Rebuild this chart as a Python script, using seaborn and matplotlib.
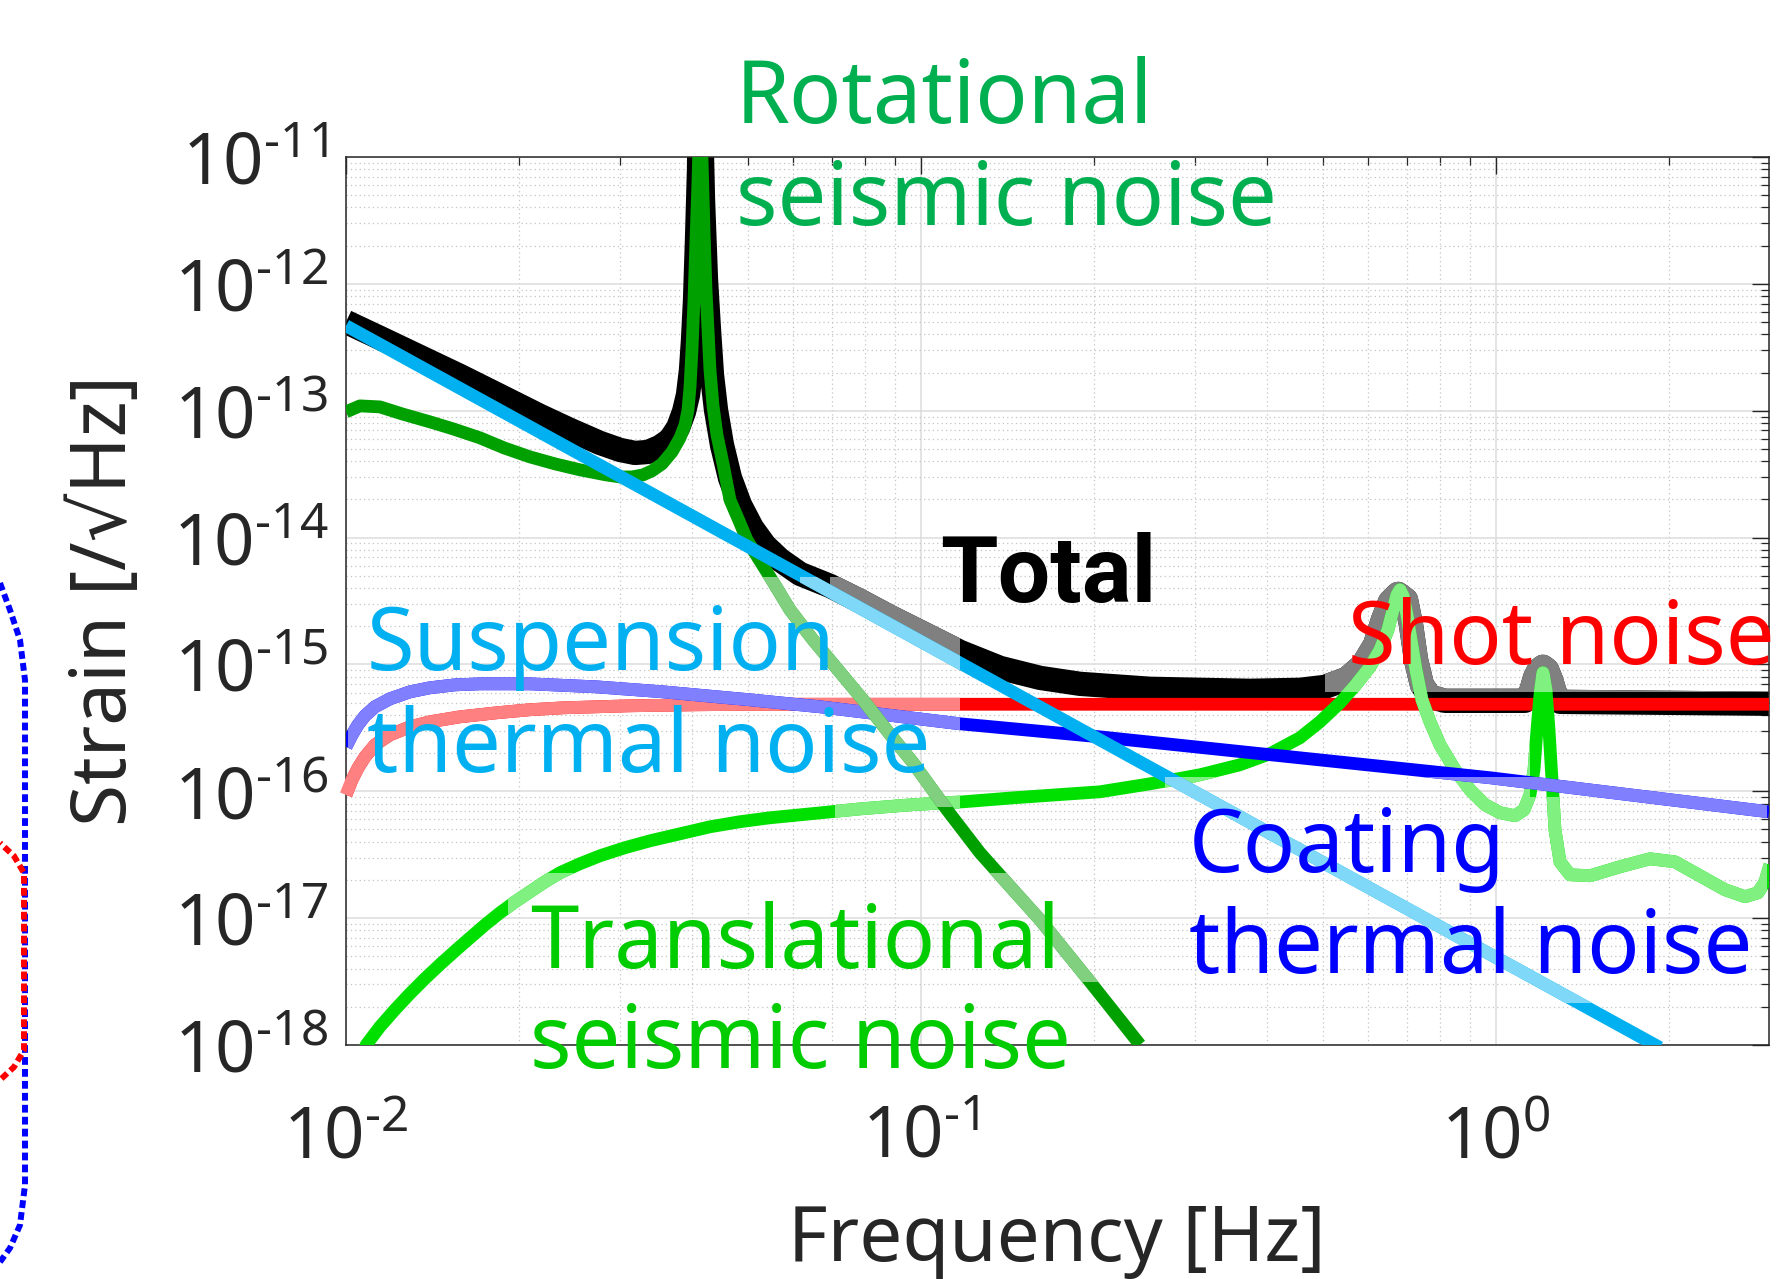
import numpy as np
import pandas as pd
import matplotlib
matplotlib.use("Agg")
import matplotlib.pyplot as plt
import seaborn as sns
from matplotlib.patches import Rectangle
from matplotlib.lines import Line2D
from matplotlib.ticker import FixedLocator, LogLocator, NullFormatter

# ---------------- data (log10 frequency [Hz], log10 strain [/rtHz]) ----------------
susp_logf = [-2.0, 0.285]
susp_logh = [-12.33, -18.02]

coat_logf = [-2.0, -1.9896, -1.9791, -1.9670, -1.9496, -1.9235, -1.8887, -1.8539,
             -1.8104, -1.7670, -1.6800, -1.5635, -1.4487, -1.2974, -1.1757, -0.9322,
             -0.6887, -0.0087, 0.4748]
coat_logh = [-15.649, -15.555, -15.476, -15.405, -15.334, -15.271, -15.216, -15.184,
             -15.161, -15.153, -15.153, -15.177, -15.216, -15.279, -15.334, -15.468,
             -15.571, -15.894, -16.162]

shot_logf = [-2.0, -1.9896, -1.9791, -1.9670, -1.9496, -1.9235, -1.8887, -1.8539,
             -1.8017, -1.7374, -1.6800, -1.6226, -1.5061, -1.3896, -1.2974, 0.4748]
shot_logh = [-16.028, -15.910, -15.816, -15.729, -15.634, -15.555, -15.492, -15.452,
             -15.413, -15.381, -15.357, -15.342, -15.326, -15.318, -15.314, -15.314]

rot_logf = [-2.0, -1.9757, -1.9409, -1.9026, -1.8539, -1.8139, -1.7670, -1.7252,
            -1.6800, -1.6365, -1.5930, -1.5478, -1.5235, -1.5026, -1.4835, -1.4678,
            -1.4504, -1.4330, -1.4191, -1.4104, -1.4052, -1.4017, -1.3983, -1.3948,
            -1.3913, -1.3878, -1.3843, -1.3809, -1.3774, -1.3739, -1.3704, -1.3670,
            -1.3617, -1.3548, -1.3443, -1.3322, -1.3165, -1.3026, -1.2835, -1.2626,
            -1.2278, -1.1878, -1.1443, -1.1009, -1.0574, -1.0139, -0.9548, -0.8974,
            -0.8400, -0.7930, -0.7061, -0.6191]
rot_logh = [-13.009, -12.962, -12.970, -13.025, -13.088, -13.143, -13.214, -13.293,
            -13.364, -13.419, -13.466, -13.506, -13.522, -13.522, -13.506, -13.474,
            -13.419, -13.325, -13.214, -13.112, -12.994, -12.812, -12.521, -12.127,
            -11.654, -11.181, -10.600, -11.000, -11.575, -12.048, -12.363, -12.678,
            -12.962, -13.191, -13.419, -13.703, -13.868, -14.018, -14.160, -14.310,
            -14.570, -14.806, -15.043, -15.279, -15.531, -15.775, -16.146, -16.485,
            -16.776, -17.013, -17.501, -17.998]

tra_logf = [-1.975, -1.965, -1.941, -1.915, -1.889, -1.863, -1.837, -1.810, -1.784,
            -1.758, -1.732, -1.706, -1.680, -1.654, -1.628, -1.593, -1.558, -1.515,
            -1.471, -1.419, -1.367, -1.315, -1.263, -1.193, -1.104, -1.016, -0.927,
            -0.838, -0.6887, -0.6017, -0.5148, -0.4452, -0.3930, -0.3409, -0.3061,
            -0.2713, -0.2452, -0.2191, -0.2017, -0.1878, -0.1791, -0.1722, -0.1670,
            -0.1617, -0.1548, -0.1478, -0.1391, -0.1287, -0.1148, -0.0974, -0.0713,
            -0.0452, -0.0191, 0.0070, 0.0330, 0.0487, 0.0591, 0.0661, 0.0713, 0.0765,
            0.0817, 0.0870, 0.0922, 0.0974, 0.1026, 0.1113, 0.1287, 0.1635, 0.2157,
            0.2678, 0.3113, 0.3548, 0.3983, 0.4330, 0.4557, 0.4678, 0.4765]
tra_logh = [-18.15, -18.000, -17.856, -17.722, -17.596, -17.478, -17.367, -17.257,
            -17.154, -17.052, -16.957, -16.871, -16.792, -16.713, -16.642, -16.571,
            -16.508, -16.445, -16.390, -16.335, -16.280, -16.240, -16.209, -16.178,
            -16.138, -16.106, -16.083, -16.051, -16.004, -15.941, -15.870, -15.791,
            -15.704, -15.578, -15.452, -15.303, -15.169, -15.019, -14.885, -14.727,
            -14.570, -14.452, -14.412, -14.459, -14.609, -14.806, -15.043, -15.279,
            -15.452, -15.634, -15.831, -15.988, -16.106, -16.169, -16.193, -16.146,
            -16.028, -15.831, -15.515, -15.240, -15.066, -15.200, -15.515, -15.909,
            -16.303, -16.556, -16.658, -16.666, -16.595, -16.532, -16.556, -16.666,
            -16.776, -16.831, -16.800, -16.713, -16.579]

tot_logf = [-2.0, -1.9409, -1.8713, -1.8017, -1.7322, -1.6626, -1.6104, -1.5583,
            -1.5235, -1.4974, -1.4748, -1.4539, -1.4365, -1.4226, -1.4122, -1.4052,
            -1.4000, -1.3965, -1.3930, -1.3896, -1.3861, -1.3843, -1.3809, -1.3791,
            -1.3739, -1.3687, -1.3635, -1.3565, -1.3461, -1.3322, -1.3148, -1.2939,
            -1.2713, -1.2452, -1.2104, -1.1583, -1.1061, -1.0539, -1.0017, -0.9322,
            -0.8626, -0.7930, -0.7235, -0.6017, -0.4278, -0.3409, -0.2974, -0.2591,
            -0.2313, -0.2104, -0.1965, -0.1843, -0.1704, -0.1565, -0.1478, -0.1391,
            -0.1287, -0.1148, -0.0887, 0.0504, 0.0609, 0.0678, 0.0748, 0.0817, 0.0887,
            0.0957, 0.1026, 0.1113, 0.4748]
tot_logh = [-12.300, -12.426, -12.576, -12.726, -12.883, -13.041, -13.151, -13.254,
            -13.309, -13.333, -13.325, -13.285, -13.230, -13.136, -13.009, -12.875,
            -12.678, -12.442, -12.127, -11.654, -11.102, -10.500, -11.000, -11.339,
            -11.969, -12.363, -12.718, -12.994, -13.270, -13.530, -13.742, -13.924,
            -14.065, -14.176, -14.286, -14.381, -14.499, -14.625, -14.743, -14.901,
            -15.027, -15.106, -15.153, -15.192, -15.208, -15.200, -15.177, -15.113,
            -15.003, -14.846, -14.648, -14.507, -14.444, -14.491, -14.688, -14.964,
            -15.161, -15.255, -15.287, -15.287, -15.216, -15.106, -15.043, -15.019,
            -15.043, -15.121, -15.224, -15.295, -15.310]

x_ticks = [1e-2, 1e-1, 1e0]
x_ticklabels = [r"$10^{\text{-}2}$", r"$10^{\text{-}1}$", r"$10^{0}$"]
y_ticks = [1e-18, 1e-17, 1e-16, 1e-15, 1e-14, 1e-13, 1e-12, 1e-11]
y_ticklabels = [r"$10^{\text{-}18}$", r"$10^{\text{-}17}$", r"$10^{\text{-}16}$",
                r"$10^{\text{-}15}$", r"$10^{\text{-}14}$", r"$10^{\text{-}13}$",
                r"$10^{\text{-}12}$", r"$10^{\text{-}11}$"]

# ---------------- style ----------------
sns.set_theme(style="white")
plt.rcParams["font.family"] = ["Noto Sans", "DejaVu Sans"]
plt.rcParams["mathtext.fontset"] = "custom"
plt.rcParams["mathtext.rm"] = "Noto Sans"
plt.rcParams["mathtext.it"] = "Noto Sans:italic"
plt.rcParams["mathtext.bf"] = "Noto Sans:bold"

W, H = 1781, 1279
fig = plt.figure(figsize=(W / 100, H / 100), dpi=100)
fig.patch.set_facecolor("white")


def fx(x):
    return x / W


def fy(y):
    return 1 - y / H


ax = fig.add_axes([fx(346), fy(1045), fx(1769) - fx(346), fy(157) - fy(1045)])
ax.set_xscale("log")
ax.set_yscale("log")
ax.set_xlim(1e-2, 10 ** 0.4748)
ax.set_ylim(1e-18, 1e-11)
ax.set_facecolor("white")

ax.xaxis.set_major_locator(FixedLocator(x_ticks))
ax.yaxis.set_major_locator(FixedLocator(y_ticks))
ax.xaxis.set_minor_locator(LogLocator(base=10, subs=np.arange(2, 10), numticks=30))
ax.yaxis.set_minor_locator(LogLocator(base=10, subs=np.arange(2, 10), numticks=30))
ax.xaxis.set_minor_formatter(NullFormatter())
ax.yaxis.set_minor_formatter(NullFormatter())
ax.set_xticklabels(x_ticklabels)
ax.set_yticklabels(y_ticklabels)

ax.set_axisbelow(True)
ax.grid(which="major", color="#dcdcdc", lw=1.1, ls="-")
ax.grid(which="minor", color="#c4c4c4", lw=0.9, ls=(0, (1, 2.5)))

ax.tick_params(which="both", direction="in", top=True, right=True, color="#262626")
ax.tick_params(which="major", length=12, width=1.0)
ax.tick_params(which="minor", length=6, width=0.9)
ax.tick_params(axis="y", labelsize=51, pad=13, labelcolor="#262626")
ax.tick_params(axis="x", labelsize=51, pad=42, labelcolor="#262626")
for s in ax.spines.values():
    s.set_color("#262626")
    s.set_linewidth(1.1)
    s.set_visible(True)

LW = 9.2
LW_TOT = 17.5


def fade_rect(x0, y0, x1, y1):
    return Rectangle((fx(x0), fy(y1)), fx(x1) - fx(x0), fy(y0) - fy(y1),
                     transform=fig.transFigure, fill=False)


def draw(logf, logh, color, faded, lw, z, fades):
    df = pd.DataFrame({"f": np.power(10.0, np.array(logf)),
                       "h": np.power(10.0, np.array(logh))})
    sns.lineplot(data=df, x="f", y="h", ax=ax, color=color, linewidth=lw,
                 sort=False, estimator=None, zorder=z)
    ln = ax.lines[-1]
    ln.set_solid_capstyle("butt")
    ln.set_solid_joinstyle("round")
    for r in fades:
        sns.lineplot(data=df, x="f", y="h", ax=ax, color=faded, linewidth=lw,
                     sort=False, estimator=None, zorder=z + 0.01)
        l2 = ax.lines[-1]
        l2.set_solid_capstyle("butt")
        l2.set_solid_joinstyle("round")
        l2.set_clip_path(fade_rect(*r))


R1 = (340, 577, 960, 807)
draw(tot_logf, tot_logh, "#000000", "#808080", LW_TOT, 2,
     [(830, 577, 960, 807), (1325, 540, 1767, 692)])
draw(shot_logf, shot_logh, "#FF0000", "#FF8080", LW, 3, [R1])
draw(tra_logf, tra_logh, "#00E000", "#80F080", LW, 4,
     [(835, 760, 960, 830), (508, 873, 1165, 982), (1325, 540, 1767, 692),
      (1380, 692, 1530, 800), (1165, 777, 1530, 1003), (1530, 797, 1560, 1003),
      (1560, 777, 1767, 1003)])
draw(coat_logf, coat_logh, "#0000FF", "#8080FF", LW, 5,
     [(348, 577, 960, 807), (1165, 777, 1767, 1003)])
draw(rot_logf, rot_logh, "#00A000", "#80D080", LW, 6,
     [R1, (508, 873, 1165, 982)])
draw(susp_logf, susp_logh, "#00B0F0", "#80D8F8", LW, 7,
     [(800, 577, 960, 807), (1165, 777, 1767, 1003)])
ax.set_xlabel("")
ax.set_ylabel("")

# ---------------- annotations ----------------
FS = 62.5
labels = [
    ("Rotational", 736, 123, "#00B050"),
    ("seismic noise", 736, 225, "#00B050"),
    ("Suspension", 367, 670, "#00B0F0"),
    ("thermal noise", 367, 772, "#00B0F0"),
    ("Shot noise", 1348, 664, "#FF0000"),
    ("Coating", 1189, 872, "#0000FF"),
    ("thermal noise", 1189, 973, "#0000FF"),
    ("Translational", 530, 968, "#00CC00"),
    ("seismic noise", 530, 1068, "#00CC00"),
]
for txt, x, y, c in labels:
    fig.text(fx(x), fy(y), txt, color=c, fontsize=FS,
             ha="left", va="baseline", zorder=20)
fig.text(fx(940), fy(602), "Total", color="black", fontsize=67, fontweight="bold",
         family=["Roboto", "DejaVu Sans"], ha="left", va="baseline", zorder=20)

fig.text(fx(106), fy(601), "Strain [/\u221aHz]", rotation=90, ha="center",
         va="center", fontsize=55, color="#262626")
fig.text(fx(1057), fy(1261), "Frequency [Hz]", ha="center", va="baseline",
         fontsize=55, color="#262626")

# ---------------- decorative dotted outlines at the left edge ----------------
bx = [0, 10, 20, 25, 25, 20, 10, 0]
by = [583, 610, 640, 680, 1185, 1225, 1248, 1262]
fig.add_artist(Line2D([fx(v) for v in bx], [fy(v) for v in by], transform=fig.transFigure,
                      color="#0000FF", lw=4.3, ls=(0, (1.3, 0.7)),
                      dash_capstyle="butt", zorder=5))
rx = [0, 14, 24, 24, 14, 0]
ry = [843, 856, 873, 1050, 1067, 1080]
fig.add_artist(Line2D([fx(v) for v in rx], [fy(v) for v in ry], transform=fig.transFigure,
                      color="#FF0000", lw=4.3, ls=(1.0, (1.3, 0.7)),
                      dash_capstyle="butt", zorder=6))

fig.savefig("out.png", dpi=100, facecolor="white")
